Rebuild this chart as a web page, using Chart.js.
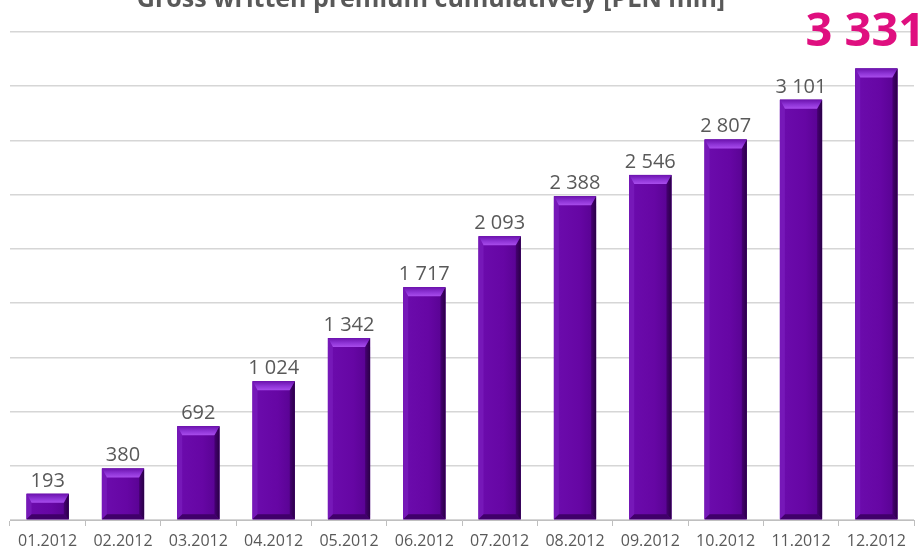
<!DOCTYPE html>
<html>
<head>
<meta charset="utf-8">
<title>Gross written premium cumulatively</title>
<script src="https://cdn.jsdelivr.net/npm/chart.js@4.4.1/dist/chart.umd.min.js"></script>
<style>
  html, body { margin: 0; padding: 0; background: #fff; }
  #wrap { width: 924px; height: 552px; position: relative; }
</style>
</head>
<body>
<div id="wrap"><canvas id="premiumChart"></canvas></div>
<script>
// monthly cumulative GWP, PLN mln
const months = ['01.2012', '02.2012', '03.2012', '04.2012', '05.2012', '06.2012',
                '07.2012', '08.2012', '09.2012', '10.2012', '11.2012', '12.2012'];
const premium = [193, 380, 692, 1024, 1342, 1717, 2093, 2388, 2546, 2807, 3101, 3331];
const yMax = 3600;
const yStep = 400;
const titleText = 'Gross written premium cumulatively [PLN mln]';

const fmt = v => String(v).replace(/\B(?=(\d{3})+(?!\d))/g, ' ');

// title sits half off the top edge
const titlePlugin = {
  id: 'topTitle',
  afterDraw(chart) {
    const ctx = chart.ctx;
    ctx.save();
    ctx.font = 'bold 25px "Open Sans"';
    ctx.fillStyle = '#595959';
    ctx.textAlign = 'center';
    ctx.textBaseline = 'alphabetic';
    ctx.fillText(titleText, 431, 7);
    ctx.restore();
  }
};

// bevelled 3d look on top of plain bars
const bevelPlugin = {
  id: 'bevel',
  afterDatasetsDraw(chart) {
    const ctx = chart.ctx;
    const meta = chart.getDatasetMeta(0);
    meta.data.forEach(bar => {
      const p = bar.getProps(['x', 'y', 'width', 'base'], true);
      const l = p.x - p.width / 2, r = p.x + p.width / 2, t = p.y, b = p.base;
      const e = 5, et = 9;
      ctx.save();
      let g = ctx.createLinearGradient(l, 0, r, 0);
      g.addColorStop(0, '#6c0cad');
      g.addColorStop(0.6, '#6606a4');
      g.addColorStop(1, '#56028f');
      ctx.fillStyle = g;
      ctx.fillRect(l, t, r - l, b - t);

      // left edge
      ctx.fillStyle = '#7618b8';
      ctx.beginPath();
      ctx.moveTo(l, t); ctx.lineTo(l + e, t + et); ctx.lineTo(l + e, b - e); ctx.lineTo(l, b);
      ctx.closePath(); ctx.fill();

      // right edge
      g = ctx.createLinearGradient(r - e, 0, r, 0);
      g.addColorStop(0, '#460073');
      g.addColorStop(1, '#2a0046');
      ctx.fillStyle = g;
      ctx.beginPath();
      ctx.moveTo(r, t); ctx.lineTo(r - e, t + et); ctx.lineTo(r - e, b - e); ctx.lineTo(r, b);
      ctx.closePath(); ctx.fill();

      // bottom edge
      ctx.fillStyle = '#40006a';
      ctx.beginPath();
      ctx.moveTo(l, b); ctx.lineTo(l + e, b - e); ctx.lineTo(r - e, b - e); ctx.lineTo(r, b);
      ctx.closePath(); ctx.fill();

      // top edge with highlight
      g = ctx.createLinearGradient(0, t, 0, t + et);
      g.addColorStop(0, '#6c12ae');
      g.addColorStop(0.55, '#8e34d6');
      g.addColorStop(1, '#a84cec');
      ctx.fillStyle = g;
      ctx.beginPath();
      ctx.moveTo(l, t); ctx.lineTo(r, t); ctx.lineTo(r - e, t + et); ctx.lineTo(l + e, t + et);
      ctx.closePath(); ctx.fill();
      ctx.restore();
    });
  }
};

// value labels above bars, last one highlighted
const valuePlugin = {
  id: 'values',
  afterDatasetsDraw(chart) {
    const ctx = chart.ctx;
    const meta = chart.getDatasetMeta(0);
    const data = chart.data.datasets[0].data;
    ctx.save();
    ctx.textAlign = 'center';
    ctx.textBaseline = 'alphabetic';
    meta.data.forEach((bar, i) => {
      const p = bar.getProps(['x', 'y'], true);
      if (i === data.length - 1) {
        ctx.font = 'bold 47px "Open Sans"';
        ctx.fillStyle = '#df0f7f';
        ctx.fillText(fmt(data[i]), p.x - 11, p.y - 22);
      } else {
        ctx.font = '20px "Open Sans"';
        ctx.fillStyle = '#595959';
        ctx.fillText(fmt(data[i]), p.x, p.y - 7);
      }
    });
    ctx.restore();
  }
};

const ctx = document.getElementById('premiumChart').getContext('2d');

new Chart(ctx, {
  type: 'bar',
  data: {
    labels: months,
    datasets: [{
      label: 'GWP',
      data: premium,
      backgroundColor: '#6606a4',
      borderWidth: 0,
      barPercentage: 0.56,
      categoryPercentage: 1
    }]
  },
  options: {
    responsive: true,
    maintainAspectRatio: false,
    animation: false,
    layout: { padding: { left: 10, right: 10, top: 32, bottom: 0 } },
    plugins: {
      legend: { display: false },
      tooltip: { enabled: false }
    },
    scales: {
      x: {
        grid: {
          offset: true,
          drawOnChartArea: false,
          drawTicks: true,
          tickLength: 6,
          color: '#bfbfbf'
        },
        border: { color: '#bfbfbf' },
        ticks: {
          color: '#595959',
          font: { family: 'Open Sans', size: 16 },
          padding: 6,
          maxRotation: 0
        },
        afterFit(scale) { scale.height = 32; }
      },
      y: {
        min: 0,
        max: yMax,
        ticks: { display: false, stepSize: yStep },
        grid: { color: '#d6d6d6', drawTicks: false, lineWidth: 1.5 },
        border: { display: false },
        afterFit(scale) { scale.width = 0; }
      }
    }
  },
  plugins: [bevelPlugin, valuePlugin, titlePlugin]
});
</script>
</body>
</html>
